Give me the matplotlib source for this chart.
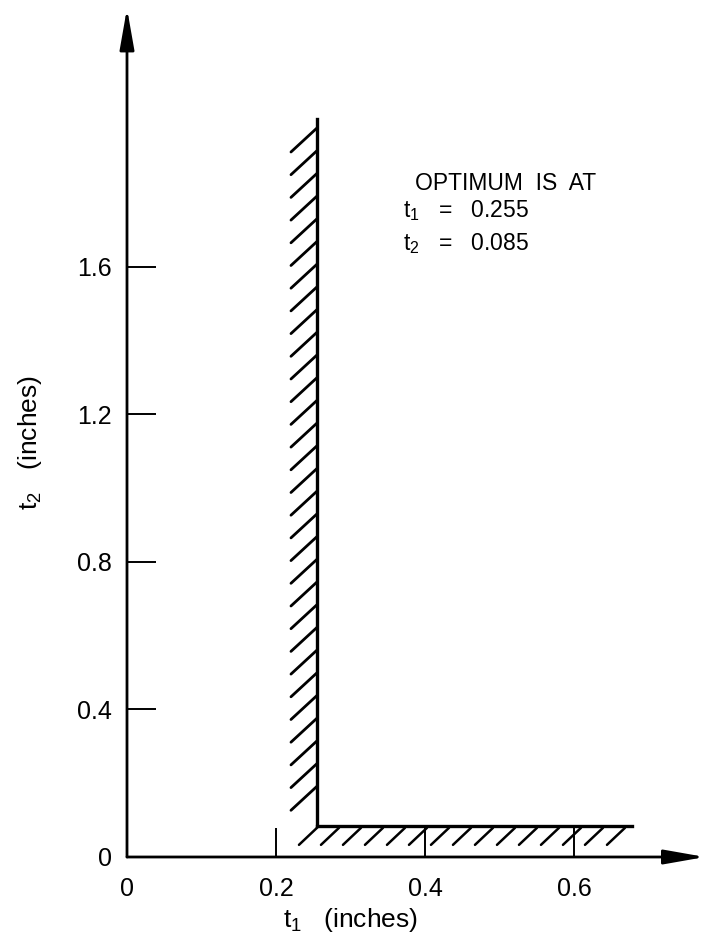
import numpy as np
import matplotlib
matplotlib.use('Agg')
import matplotlib.pyplot as plt

plt.rcParams['font.family'] = ['Liberation Sans', 'DejaVu Sans']
plt.rcParams['mathtext.fontset'] = 'custom'
plt.rcParams['mathtext.rm'] = 'Liberation Sans'
plt.rcParams['mathtext.it'] = 'Liberation Sans'

# optimum design point (inches)
t1_opt = 0.255
t2_opt = 0.085

# extent of the two active constraint boundaries
t2_upper = 2.0      # top of the t1 = t1_opt boundary
t1_right = 0.678    # right end of the t2 = t2_opt boundary

x_ticks = [0, 0.2, 0.4, 0.6]
x_labels = ['0', '0.2', '0.4', '0.6']
y_ticks = [0, 0.4, 0.8, 1.2, 1.6]
y_labels = ['0', '0.4', '0.8', '1.2', '1.6']
x_max = 0.776
y_max = 2.30


def hatch(ax, p0, p1, step, off, start=0.0, stop=0.0, **kw):
    # short slanted strokes along a boundary, spaced in pixels
    to_px = ax.transData.transform
    to_data = ax.transData.inverted().transform
    a = to_px(p0)
    b = to_px(p1)
    length = np.hypot(*(b - a))
    unit = (b - a) / length
    for s in np.arange(start, length - stop + 0.1, step):
        q = a + unit * s
        seg = to_data(np.array([q, q + off]))
        ax.plot(seg[:, 0], seg[:, 1], color='black', solid_capstyle='round', **kw)


fig = plt.figure(figsize=(7.05, 9.44), dpi=100)
ax = fig.add_axes([127 / 705, 87 / 944, x_max * 745 / 705, y_max * 369 / 944])
ax.set_xlim(0, x_max)
ax.set_ylim(0, y_max)
for sp in ax.spines.values():
    sp.set_visible(False)

ax.set_xticks(x_ticks, x_labels)
ax.set_yticks(y_ticks, y_labels)
ax.tick_params(axis='both', direction='in', length=21, width=1.4, labelsize=18)
ax.tick_params(axis='x', pad=14.5)
ax.tick_params(axis='y', pad=11)

# axes drawn as arrows
arrow = dict(arrowstyle='-|>,head_length=1.25,head_width=0.22', mutation_scale=20,
             lw=2.0, color='black', shrinkA=0, shrinkB=0)
ax.annotate('', xy=(0, y_max), xytext=(0, 0), arrowprops=arrow, annotation_clip=False)
ax.annotate('', xy=(x_max, 0), xytext=(0, 0), arrowprops=arrow, annotation_clip=False)

# constraint boundaries
ax.plot([t1_opt, t1_opt], [t2_opt, t2_upper], color='black', lw=2.4)
ax.plot([t1_opt, t1_right], [t2_opt, t2_opt], color='black', lw=2.4)
hatch(ax, (t1_opt, t2_upper), (t1_opt, t2_opt), 22.7, np.array([-26, -24]),
      start=9, stop=18, lw=2.0)
hatch(ax, (t1_opt, t2_opt - 0.006), (t1_right, t2_opt - 0.006), 22, np.array([-18, -17]),
      lw=1.8)

# optimum note
ax.text(0.387, 1.808, 'OPTIMUM  IS  AT', fontsize=16.5, va='baseline')
ax.text(0.370, 1.735, r'$\mathrm{t_1}$   =   ' + f'{t1_opt:.3f}', fontsize=16.5, va='baseline')
ax.text(0.370, 1.645, r'$\mathrm{t_2}$   =   ' + f'{t2_opt:.3f}', fontsize=16.5, va='baseline')

fig.text(350 / 705, 1 - 920 / 944, r'$\mathrm{t_1}$   (inches)', fontsize=19,
         ha='center', va='center')
fig.text(30 / 705, 1 - 443 / 944, r'$\mathrm{t_2}$   (inches)', fontsize=19,
         ha='center', va='center', rotation=90)

fig.savefig('out.png', dpi=100)
